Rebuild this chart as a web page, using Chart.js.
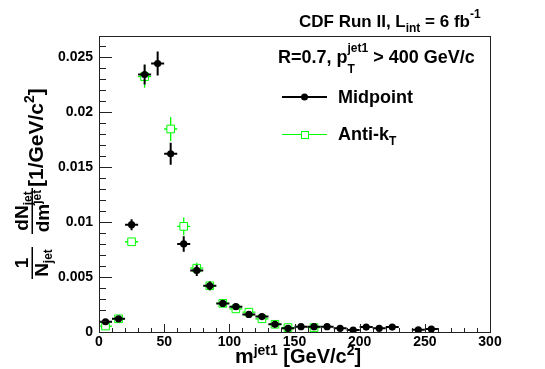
<!DOCTYPE html>
<html><head><meta charset="utf-8">
<script src="https://cdn.jsdelivr.net/npm/chart.js@4/dist/chart.umd.min.js"></script>
<style>html,body{margin:0;padding:0;background:#fff}#wrap{width:545px;height:369px;position:relative}</style>
</head><body><div id="wrap"><canvas id="c" width="545" height="369"></canvas></div>
<script>
// ---- data ----
const massBins = [5,15,25,35,45,55,65,75,85,95,105,115,125,135,145,155,165,175,185,195,205,215,225,235,245,255];
const midpointValues = [0.00093,0.0012,0.00975,0.0234,0.0244,0.0162,0.0080,0.0056,0.0042,0.0026,0.0023,0.0016,0.0014,0.0007,0.00033,0.00048,0.00048,0.00048,0.00033,0.00018,0.00045,0.00033,0.00045,null,0.0002,0.00027];
const midpointErrors = [0.0001,0.0001,0.0005,0.0009,0.0011,0.001,0.0007,0.0005,0.0004,0.0003,0.0003,0.0002,0.0002,0.0001,0.0001,0.0001,0.0001,0.0001,0.0001,0.0001,0.0001,0.0001,0.0001,null,0.0001,0.0001];
const antiktValues = [0.00054,0.0012,0.0082,0.0232,null,0.01845,0.0096,0.0058,0.0042,0.0026,0.0021,0.0018,0.0012,0.0007,0.0004,null,0.0004,null,null,null,null,null,null,null,null,null];
const antiktErrors = [0.0001,0.0001,0.0003,0.001,null,0.0011,0.0008,0.0005,0.0004,0.0003,0.0003,0.0002,0.0002,0.0001,0.0001,null,0.0001,null,null,null,null,null,null,null,null,null];
const binHalfWidth = 5;
const xRange = [0, 300];
const yRange = [0, 0.0269];
const xMajorStep = 50, xMinorStep = 10;
const yMajorStep = 0.005, yMinorStep = 0.001;

const FONT = '"Liberation Sans", Arial, Helvetica, sans-serif';
const GREEN = '#00ff00';

function toPoints(vals, errs) {
  const pts = [];
  massBins.forEach((m, i) => { if (vals[i] !== null) pts.push({x: m, y: vals[i], err: errs[i]}); });
  return pts;
}

function rich(ctx, x, y, segs) {
  let cx = x;
  for (const s of segs) {
    ctx.font = 'bold ' + s.size + 'px ' + FONT;
    ctx.fillText(s.t, cx, y + (s.dy || 0));
    if (!s.noAdvance) cx += ctx.measureText(s.t).width;
  }
  return cx;
}
function richWidth(ctx, segs) {
  let w = 0;
  for (const s of segs) { ctx.font = 'bold ' + s.size + 'px ' + FONT; if (!s.noAdvance) w += ctx.measureText(s.t).width; }
  return w;
}

const errorBarPlugin = {
  id: 'errorBars',
  beforeDatasetDraw(chart, args) {
    const ds = chart.data.datasets[args.index];
    const xs = chart.scales.x, ys = chart.scales.y;
    const ctx = chart.ctx;
    ctx.save();
    ctx.beginPath();
    ctx.rect(chart.chartArea.left, chart.chartArea.top, chart.chartArea.right - chart.chartArea.left, chart.chartArea.bottom - chart.chartArea.top);
    ctx.clip();
    ctx.strokeStyle = ds.errColor;
    ctx.lineWidth = ds.errWidth;
    ds.data.forEach(p => {
      const px = xs.getPixelForValue(p.x), py = ys.getPixelForValue(p.y);
      ctx.beginPath();
      ctx.moveTo(xs.getPixelForValue(p.x - binHalfWidth), py);
      ctx.lineTo(xs.getPixelForValue(p.x + binHalfWidth), py);
      ctx.moveTo(px, ys.getPixelForValue(p.y - p.err));
      ctx.lineTo(px, ys.getPixelForValue(p.y + p.err));
      ctx.stroke();
    });
    ctx.restore();
  }
};

const framePlugin = {
  id: 'frame',
  afterDatasetsDraw(chart) {
    const ctx = chart.ctx, a = chart.chartArea;
    const xs = chart.scales.x, ys = chart.scales.y;
    ctx.save();
    ctx.strokeStyle = '#222';
    ctx.lineWidth = 1;
    ctx.strokeRect(Math.round(a.left) + 0.5, Math.round(a.top) + 0.5, Math.round(a.right - a.left), Math.round(a.bottom - a.top));
    ctx.beginPath();
    for (let v = xRange[0]; v <= xRange[1] + 1e-9; v += xMinorStep) {
      const px = Math.round(xs.getPixelForValue(v)) + 0.5;
      const major = Math.abs(v / xMajorStep - Math.round(v / xMajorStep)) < 1e-6;
      ctx.moveTo(px, a.bottom);
      ctx.lineTo(px, a.bottom - (major ? 8 : 4));
    }
    for (let k = 0; k * yMinorStep <= yRange[1] + 1e-12; k++) {
      const v = k * yMinorStep;
      const py = Math.round(ys.getPixelForValue(v)) + 0.5;
      const major = k % 5 === 0;
      ctx.moveTo(a.left, py);
      ctx.lineTo(a.left + (major ? 13 : 7), py);
    }
    ctx.stroke();
    ctx.restore();
  },
  afterDraw(chart) {
    const ctx = chart.ctx;
    ctx.save();
    ctx.fillStyle = '#000';
    ctx.textAlign = 'left';
    ctx.textBaseline = 'alphabetic';
    // title
    rich(ctx, 299, 27, [{t:'CDF Run II, L', size:17},{t:'int', size:12, dy:5},{t:' = 6 fb', size:17},{t:'-1', size:12, dy:-9}]);
    // legend header
    rich(ctx, 278, 63, [{t:'R=0.7, p', size:18},{t:'T', size:12, dy:10, noAdvance:true},{t:'jet1', size:12, dy:-11},{t:' > 400 GeV/c', size:18}]);
    // legend entries
    ctx.lineWidth = 2; ctx.strokeStyle = '#000';
    ctx.beginPath(); ctx.moveTo(282, 97); ctx.lineTo(327, 97); ctx.stroke();
    ctx.beginPath(); ctx.arc(304.5, 97, 3.5, 0, Math.PI * 2); ctx.fill();
    rich(ctx, 338, 103, [{t:'Midpoint', size:18}]);
    ctx.lineWidth = 1; ctx.strokeStyle = GREEN;
    ctx.beginPath(); ctx.moveTo(282, 134.5); ctx.lineTo(327, 134.5); ctx.stroke();
    ctx.fillStyle = '#fff'; ctx.fillRect(301, 131, 7, 7);
    ctx.strokeRect(301.5, 131.5, 7, 7);
    ctx.fillStyle = '#000';
    rich(ctx, 338, 140, [{t:'Anti-k', size:18},{t:'T', size:12, dy:5}]);
    // x title
    rich(ctx, 235, 363, [{t:'m', size:21},{t:'jet1', size:14, dy:-8},{t:' [GeV/c', size:20},{t:'2', size:14, dy:-8},{t:']', size:20}]);
    // y title (rotated)
    ctx.rotate(-Math.PI / 2);
    // fraction 1 / N_jet
    const f1c = -263;
    ctx.fillRect(-279, 31.5, 32, 1.5);
    let w = richWidth(ctx, [{t:'1', size:19}]);
    rich(ctx, f1c - w / 2, 28, [{t:'1', size:19}]);
    let den1 = [{t:'N', size:19},{t:'jet', size:12, dy:4}];
    w = richWidth(ctx, den1);
    rich(ctx, f1c - w / 2, 48, den1);
    // fraction dN_jet / dm^jet
    const f2c = -211;
    ctx.fillRect(-234, 31.5, 46, 1.5);
    let num2 = [{t:'dN', size:19},{t:'jet', size:12, dy:4}];
    w = richWidth(ctx, num2);
    rich(ctx, f2c - w / 2, 27.5, num2);
    let den2 = [{t:'dm', size:19},{t:'jet', size:12, dy:-8}];
    w = richWidth(ctx, den2);
    rich(ctx, f2c - w / 2, 49, den2);
    // units
    rich(ctx, -187, 43, [{t:'[1/GeV/c', size:21},{t:'2', size:14, dy:-9},{t:']', size:21}]);
    ctx.restore();
  }
};

const chart = new Chart(document.getElementById('c'), {
  type: 'scatter',
  data: {
    datasets: [
      {
        label: 'Midpoint',
        data: toPoints(midpointValues, midpointErrors),
        pointStyle: 'circle', pointRadius: 3.6, pointHoverRadius: 3.6,
        backgroundColor: '#000', borderColor: '#000', borderWidth: 0,
        errColor: '#000', errWidth: 2
      },
      {
        label: 'Anti-kT',
        data: toPoints(antiktValues, antiktErrors),
        pointStyle: 'rect', pointRadius: 5.4, pointHoverRadius: 5.4,
        backgroundColor: '#fff', borderColor: GREEN, borderWidth: 1,
        errColor: GREEN, errWidth: 1.3
      }
    ]
  },
  options: {
    responsive: false,
    animation: false,
    events: [],
    layout: { padding: { left: 0, top: 36, right: 55, bottom: 0 } },
    plugins: { legend: { display: false }, tooltip: { enabled: false }, title: { display: false } },
    scales: {
      x: {
        type: 'linear', min: xRange[0], max: xRange[1],
        afterFit(s) { s.height = 37; },
        grid: { display: false, drawTicks: false },
        border: { display: false },
        ticks: { stepSize: xMajorStep, padding: 2, color: '#000', font: { family: 'Liberation Sans', size: 14, weight: 'bold' }, maxRotation: 0 }
      },
      y: {
        type: 'linear', min: yRange[0], max: yRange[1],
        afterFit(s) { s.width = 99; },
        grid: { display: false, drawTicks: false },
        border: { display: false },
        ticks: { stepSize: yMajorStep, includeBounds: false, padding: 6, color: '#000', font: { family: 'Liberation Sans', size: 14, weight: 'bold' },
          callback: v => String(+v.toFixed(3)) }
      }
    }
  },
  plugins: [errorBarPlugin, framePlugin]
});
</script>
</body></html>
